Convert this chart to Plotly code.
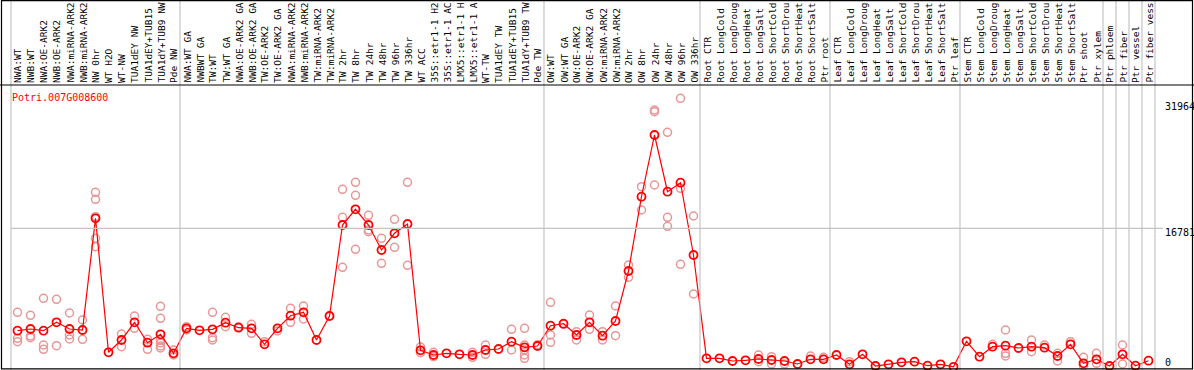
import plotly.graph_objects as go

gene = "Potri.007G008600"

labels = [
    "NWA:WT", "NWB:WT", "NWA:OE-ARK2", "NWB:OE-ARK2", "NWA:miRNA-ARK2", "NWB:miRNA-ARK2",
    "NW 0hr", "WT H2O", "WT-NW", "TUA1dEY NW", "TUA1dEY+TUB15", "TUA1dY+TUB9 NW", "Pde NW",
    "NWA:WT GA", "NWBWT GA", "TW:WT", "TW:WT GA", "NWA:OE-ARK2 GA", "NWB:OE-ARK2 GA",
    "TW:OE-ARK2", "TW:OE-ARK2 GA", "NWA:miRNA-ARK2", "NWB:miRNA-ARK2", "TW:miRNA-ARK2",
    "TW:miRNA-ARK2", "TW 2hr", "TW 8hr", "TW 24hr", "TW 48hr", "TW 96hr", "TW 336hr",
    "WT ACC", "35S::etr1-1 H2", "35S::etr1-1 AC", "LMX5::etr1-1 H", "LMX5::etr1-1 A",
    "WT-TW", "TUA1dEY TW", "TUA1dEY+TUB15", "TUA1dY+TUB9 TW", "Pde TW",
    "OW:WT", "OW:WT GA", "OW:OE-ARK2", "OW:OE-ARK2 GA", "OW:miRNA-ARK2", "OW:miRNA-ARK2",
    "OW 2hr", "OW 8hr", "OW 24hr", "OW 48hr", "OW 96hr", "OW 336hr",
    "Root CTR", "Root LongCold", "Root LongDroug", "Root LongHeat", "Root LongSalt",
    "Root ShortCold", "Root ShortDrou", "Root ShortHeat", "Root ShortSalt", "Ptr root",
    "Leaf CTR", "Leaf LongCold", "Leaf LongDroug", "Leaf LongHeat", "Leaf LongSalt",
    "Leaf ShortCold", "Leaf ShortDrou", "Leaf ShortHeat", "Leaf ShortSalt", "Ptr leaf",
    "Stem CTR", "Stem LongCold", "Stem LongDroug", "Stem LongHeat", "Stem LongSalt",
    "Stem ShortCold", "Stem ShortDrou", "Stem ShortHeat", "Stem ShortSalt", "Ptr shoot",
    "Ptr xylem", "Ptr phloem", "Ptr fiber", "Ptr vessel", "Ptr fiber vess",
]

group_sizes = [13, 28, 12, 10, 10, 11, 1, 1, 1, 1]

means = [
    4375, 4581, 4375, 5393, 4581, 4460, 17998, 1757, 3248, 5393, 2921, 3939, 1636,
    4666, 4424, 4545, 5345, 4739, 4666, 2727, 4666, 6193, 6605, 3248, 6157,
    17186, 19089, 17186, 14156, 16180, 17307, 2000, 1430, 1636, 1515, 1430,
    2036, 2157, 3042, 2363, 2521,
    4981, 5224, 3854, 5393, 3769, 5551, 11611, 20616, 28094, 21222, 22313, 13550,
    1030, 1030, 703, 788, 945, 824, 703, 339, 909, 909,
    1430, 303, 1515, 97, 303, 545, 618, 133, 303, 0,
    3091, 1224, 2436, 2557, 2279, 2436, 2315, 1309, 2727, 424, 909,
    97, 1515, 133, 739,
]

replicates = [
    [6605, 3454, 3042], [6242, 3733, 3527], [8302, 2642, 2121], [8181, 2557],
    [6521, 3854, 3369], [5672, 3333], [21149, 20301, 18192, 15574, 14556], [],
    [3975, 2436], [6157, 4666], [3333, 2121], [7333, 5878, 3248, 2885, 2521, 2279],
    [2036, 1430],
    [4860, 4460], [], [6605, 3527, 3248], [5999, 4860], [4860], [5151, 4060],
    [3042], [4339], [7090, 5393], [7369, 5793], [], [6157],
    [21513, 18119, 12059], [22361, 20786, 14241], [18362, 16580, 16374],
    [15574, 12544], [17877, 14483], [22361, 12302], [2400, 1709], [1757, 1224],
    [], [], [1757, 1151], [2642, 1515], [], [4545, 2036],
    [4666, 2642, 2036, 1430, 1030], [2679],
    [7817, 3854, 2969], [5151], [4254, 3248], [6278, 4545], [4254, 3248],
    [7369, 3769], [12338, 10847], [21828, 19004], [31124, 30918, 22034],
    [28421, 18119, 17029], [32542, 21634, 12423], [18277, 8823],
    [], [], [], [], [1430, 618], [1224, 339], [339], [], [1309], [1151],
    [], [618], [], [], [], [], [], [], [], [],
    [], [], [2727], [4460, 1636, 1309], [], [3248, 1830], [2642], [1636, 703],
    [3042], [1151, 133], [1636, 424],
    [], [2642, 339], [], [],
]

y_ticks = [0, 16781, 31964]

W, H = 1194, 370
PX0, STEP = 11, 13          # pixel of first column edge, column width
Y0PX, UNIT = 366.8, 121.2   # pixel row of value 0, value per pixel
HEADER = 85

x_range = [(0 - PX0) / STEP - 0.5, (W - PX0) / STEP - 0.5]
y_range = [(Y0PX - H) * UNIT, Y0PX * UNIT]

n = len(labels)
xs = list(range(n))

rep_x, rep_y = [], []
for i, reps in enumerate(replicates):
    for v in reps:
        rep_x.append(i)
        rep_y.append(v)

fig = go.Figure()
fig.add_trace(go.Scatter(
    x=rep_x, y=rep_y, mode="markers",
    marker=dict(symbol="circle-open", size=8, color="#e89696", line=dict(width=1.5, color="#e89696")),
    hoverinfo="skip", showlegend=False,
))
fig.add_trace(go.Scatter(
    x=xs, y=means, mode="lines+markers",
    line=dict(color="#ff0000", width=1.2),
    marker=dict(symbol="circle-open", size=8, color="#ff0000", line=dict(width=1.8, color="#ff0000")),
    showlegend=False,
))

shapes = []
line_grey = "#c4c4c4"
edges = [0]
for g in group_sizes:
    edges.append(edges[-1] + g)
for e in edges:
    shapes.append(dict(type="line", xref="x", yref="paper", x0=e - 0.5, x1=e - 0.5,
                       y0=0, y1=1, line=dict(color=line_grey, width=1.2)))
gx1 = 1163 / W
for t in y_ticks[1:2]:
    shapes.append(dict(type="line", xref="paper", yref="y", x0=PX0 / W, x1=gx1,
                       y0=t, y1=t, line=dict(color=line_grey, width=1.2)))
shapes.append(dict(type="line", xref="paper", yref="paper", x0=0, x1=1,
                   y0=1 - HEADER / H, y1=1 - HEADER / H, line=dict(color="black", width=1.2)))
shapes.append(dict(type="rect", xref="paper", yref="paper", x0=1.5 / W, x1=(W - 1.5) / W,
                   y0=1.2 / H, y1=1 - 0.6 / H, line=dict(color="black", width=1.2)))

annotations = []
for i, lab in enumerate(labels):
    annotations.append(dict(
        x=i, xref="x", y=1 - 84 / H, yref="paper", text=lab, textangle=-90,
        xanchor="center", yanchor="bottom", showarrow=False, borderpad=0,
        font=dict(family="DejaVu Sans Mono", size=9.5, color="black"),
    ))
annotations.append(dict(
    x=9.5 / W, xref="paper", y=1 - 97 / H, yref="paper", text=gene,
    xanchor="left", yanchor="middle", showarrow=False,
    font=dict(family="DejaVu Sans Mono", size=10, color="#ff0000"),
))
tick_shift = {0: 4.5, 16781: -3.7, 31964: -3.7}
for t in y_ticks:
    annotations.append(dict(
        x=1163 / W, xref="paper", y=t, yref="y", text=str(t),
        xanchor="left", yanchor="middle", yshift=tick_shift[t], showarrow=False,
        font=dict(family="DejaVu Sans Mono", size=10, color="black"),
    ))

fig.update_layout(
    width=W, height=H, autosize=False,
    margin=dict(l=0, r=0, t=0, b=0, pad=0),
    paper_bgcolor="white", plot_bgcolor="white",
    xaxis=dict(range=x_range, visible=False, showgrid=False, zeroline=False, fixedrange=True),
    yaxis=dict(range=y_range, visible=False, showgrid=False, zeroline=False, fixedrange=True),
    shapes=shapes, annotations=annotations, showlegend=False,
)

fig.write_html("out.html", config={"displayModeBar": False},
               post_script="document.body.style.margin='0';")
